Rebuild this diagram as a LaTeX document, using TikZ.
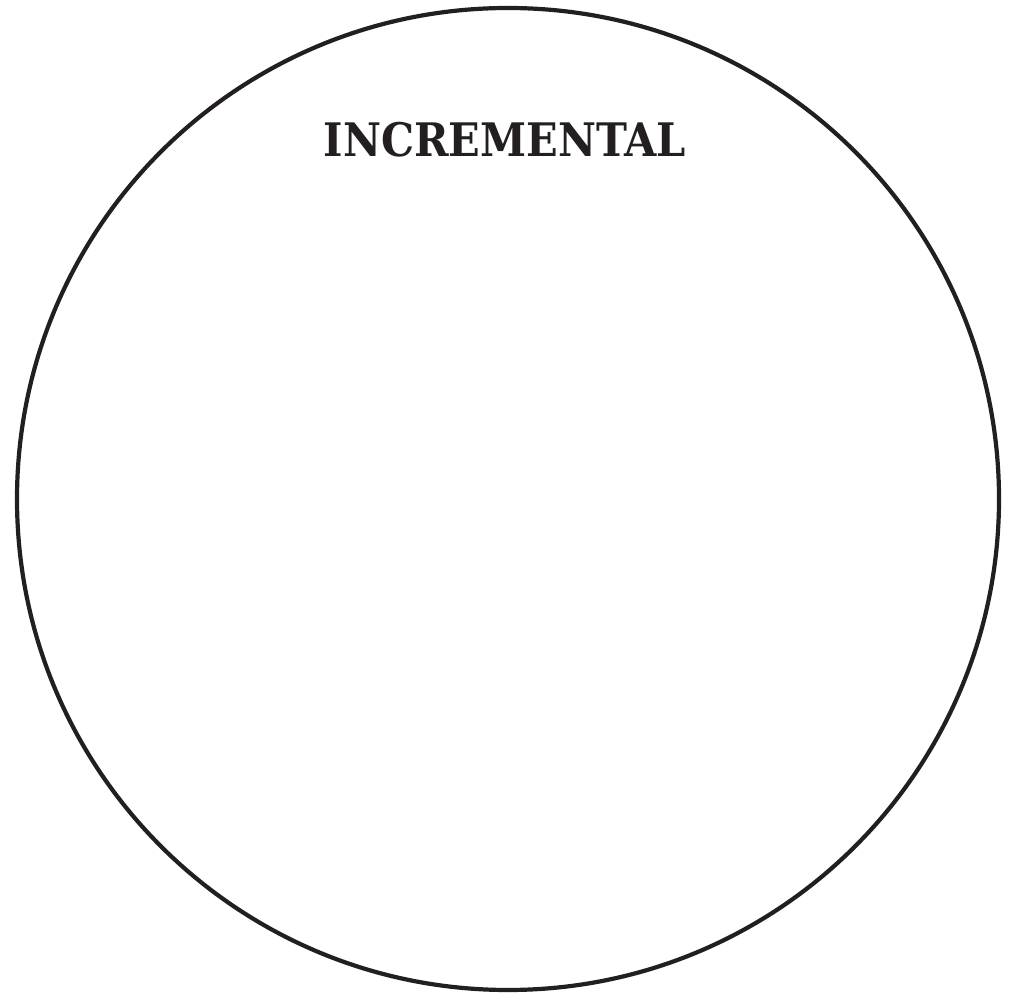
\documentclass[tikz,border=0pt]{standalone}
\usepackage{fontspec}
\newfontfamily\slabfont{DejaVu Serif Condensed}
\definecolor{ink}{HTML}{231F20}
\begin{document}
\begin{tikzpicture}[x=1pt,y=1pt,
  ring/.style={draw=ink,line width=4.2pt},
  titletext/.style={text=ink,inner sep=0pt,anchor=base,font=\slabfont\bfseries\fontsize{46.2pt}{50pt}\selectfont}]
\useasboundingbox (0,0) rectangle (1011,1001);
\node[ring,circle,minimum size=982pt,inner sep=0pt] (outer) at (508,502) {};
\node[titletext] (title) at (505,844.3) {INCREMENTAL};
\end{tikzpicture}
\end{document}
